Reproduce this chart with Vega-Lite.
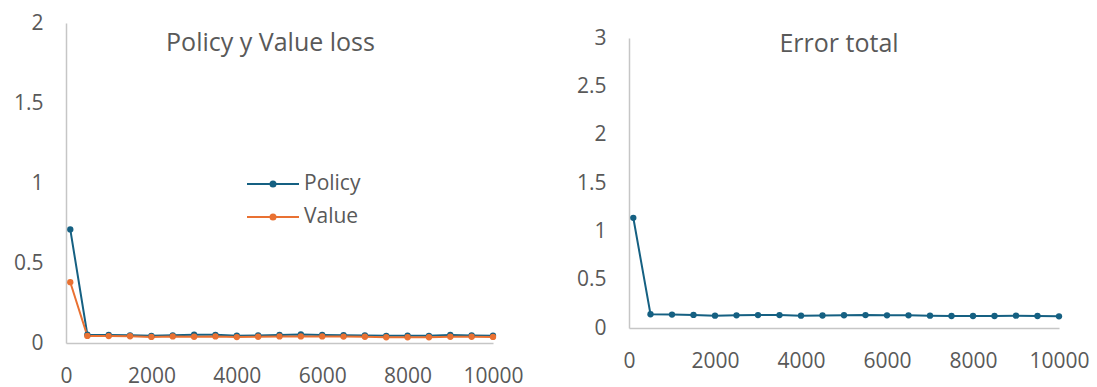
{
  "$schema": "https://vega.github.io/schema/vega-lite/v6.json",
  "background": "white",
  "padding": {"left": 13, "top": 12, "right": 0, "bottom": 0},
  "spacing": 52,
  "center": true,
  "config": {
    "view": {"stroke": null},
    "font": "Open Sans",
    "axis": {
      "domainColor": "#C6C6C6",
      "domainWidth": 1.5,
      "ticks": false,
      "grid": false,
      "labelColor": "#595959",
      "labelFont": "Open Sans",
      "labelFontSize": 21,
      "labelPadding": 23,
      "labelFlush": false,
      "labelOverlap": false,
      "title": null
    },
    "axisX": {"labelPadding": 22}
  },
  "datasets": {
    "loss": [
      {"step": 100, "series": "Policy", "loss": 0.71},
      {"step": 500, "series": "Policy", "loss": 0.052},
      {"step": 1000, "series": "Policy", "loss": 0.05},
      {"step": 1500, "series": "Policy", "loss": 0.048},
      {"step": 2000, "series": "Policy", "loss": 0.045},
      {"step": 2500, "series": "Policy", "loss": 0.048},
      {"step": 3000, "series": "Policy", "loss": 0.052},
      {"step": 3500, "series": "Policy", "loss": 0.051},
      {"step": 4000, "series": "Policy", "loss": 0.046},
      {"step": 4500, "series": "Policy", "loss": 0.047},
      {"step": 5000, "series": "Policy", "loss": 0.05},
      {"step": 5500, "series": "Policy", "loss": 0.053},
      {"step": 6000, "series": "Policy", "loss": 0.05},
      {"step": 6500, "series": "Policy", "loss": 0.049},
      {"step": 7000, "series": "Policy", "loss": 0.047},
      {"step": 7500, "series": "Policy", "loss": 0.045},
      {"step": 8000, "series": "Policy", "loss": 0.046},
      {"step": 8500, "series": "Policy", "loss": 0.045},
      {"step": 9000, "series": "Policy", "loss": 0.05},
      {"step": 9500, "series": "Policy", "loss": 0.047},
      {"step": 10000, "series": "Policy", "loss": 0.046},
      {"step": 100, "series": "Value", "loss": 0.38},
      {"step": 500, "series": "Value", "loss": 0.044},
      {"step": 1000, "series": "Value", "loss": 0.043},
      {"step": 1500, "series": "Value", "loss": 0.042},
      {"step": 2000, "series": "Value", "loss": 0.038},
      {"step": 2500, "series": "Value", "loss": 0.041},
      {"step": 3000, "series": "Value", "loss": 0.039},
      {"step": 3500, "series": "Value", "loss": 0.041},
      {"step": 4000, "series": "Value", "loss": 0.037},
      {"step": 4500, "series": "Value", "loss": 0.039},
      {"step": 5000, "series": "Value", "loss": 0.041},
      {"step": 5500, "series": "Value", "loss": 0.041},
      {"step": 6000, "series": "Value", "loss": 0.041},
      {"step": 6500, "series": "Value", "loss": 0.04},
      {"step": 7000, "series": "Value", "loss": 0.039},
      {"step": 7500, "series": "Value", "loss": 0.036},
      {"step": 8000, "series": "Value", "loss": 0.036},
      {"step": 8500, "series": "Value", "loss": 0.036},
      {"step": 9000, "series": "Value", "loss": 0.039},
      {"step": 9500, "series": "Value", "loss": 0.039},
      {"step": 10000, "series": "Value", "loss": 0.038}
    ],
    "total": [
      {"step": 100, "error": 1.14},
      {"step": 500, "error": 0.142},
      {"step": 1000, "error": 0.139},
      {"step": 1500, "error": 0.135},
      {"step": 2000, "error": 0.128},
      {"step": 2500, "error": 0.131},
      {"step": 3000, "error": 0.134},
      {"step": 3500, "error": 0.134},
      {"step": 4000, "error": 0.128},
      {"step": 4500, "error": 0.129},
      {"step": 5000, "error": 0.132},
      {"step": 5500, "error": 0.134},
      {"step": 6000, "error": 0.131},
      {"step": 6500, "error": 0.131},
      {"step": 7000, "error": 0.128},
      {"step": 7500, "error": 0.124},
      {"step": 8000, "error": 0.124},
      {"step": 8500, "error": 0.124},
      {"step": 9000, "error": 0.128},
      {"step": 9500, "error": 0.124},
      {"step": 10000, "error": 0.121}
    ]
  },
  "hconcat": [
    {
      "width": 427,
      "height": 320,
      "title": {"text": "Policy y Value loss", "offset": -44, "baseline": "top", "dx": -9, "fontSize": 25, "fontWeight": "normal", "color": "#595959", "font": "Open Sans", "anchor": "middle", "frame": "group"},
      "data": {"name": "loss"},
      "mark": {"type": "line", "strokeWidth": 2, "point": {"filled": true, "size": 40}},
      "encoding": {
        "x": {"field": "step", "type": "quantitative", "scale": {"domain": [0, 10000], "nice": false}, "axis": {"values": [0, 2000, 4000, 6000, 8000, 10000], "format": "d"}},
        "y": {"field": "loss", "type": "quantitative", "scale": {"domain": [0, 2]}, "axis": {"values": [0, 0.5, 1, 1.5, 2], "format": "~g"}},
        "color": {
          "field": "series", "type": "nominal",
          "scale": {"domain": ["Policy", "Value"], "range": ["#156082", "#E97132"]},
          "legend": {"orient": "none", "legendX": 196, "legendY": 150, "title": null,
            "symbolType": "M-2.6,0L2.6,0M0.25,0A0.25,0.25,0,1,1,-0.25,0A0.25,0.25,0,1,1,0.25,0M0.08,0A0.08,0.08,0,1,1,-0.08,0A0.08,0.08,0,1,1,0.08,0",
            "symbolSize": 400, "symbolStrokeWidth": 2, "labelFontSize": 21, "labelColor": "#595959", "labelFont": "Open Sans", "labelOffset": 20, "rowPadding": 12, "padding": 0}
        }
      }
    },
    {
      "width": 430,
      "height": 290,
      "title": {"text": "Error total", "offset": -30, "baseline": "top", "dx": -5, "fontSize": 25, "fontWeight": "normal", "color": "#595959", "font": "Open Sans", "anchor": "middle", "frame": "group"},
      "data": {"name": "total"},
      "mark": {"type": "line", "strokeWidth": 2, "color": "#156082", "point": {"filled": true, "size": 40, "color": "#156082"}},
      "encoding": {
        "x": {"field": "step", "type": "quantitative", "scale": {"domain": [0, 10000], "nice": false}, "axis": {"values": [0, 2000, 4000, 6000, 8000, 10000], "format": "d"}},
        "y": {"field": "error", "type": "quantitative", "scale": {"domain": [0, 3]}, "axis": {"values": [0, 0.5, 1, 1.5, 2, 2.5, 3], "format": "~g"}}
      }
    }
  ]
}
